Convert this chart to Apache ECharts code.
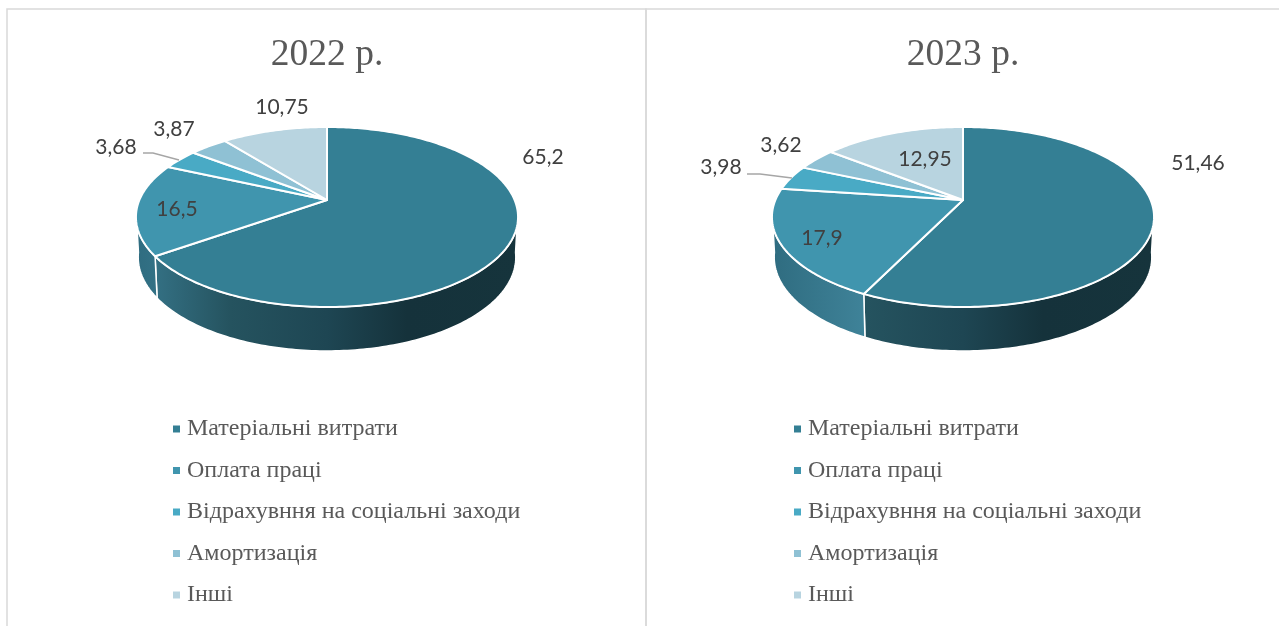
<!DOCTYPE html>
<html>
<head>
<meta charset="utf-8">
<title>Структура витрат</title>
<style>
  html, body { margin: 0; padding: 0; background: #fff; }
  #chart { width: 1279px; height: 626px; }
</style>
</head>
<body>
<div id="chart"></div>
<script src="https://cdn.jsdelivr.net/npm/echarts@6/dist/echarts.min.js"></script>
<script>
// spelling of the third category is as printed in the source chart
const categories = ['Матеріальні витрати', 'Оплата праці', 'Відрахувння на соціальні заходи', 'Амортизація', 'Інші']
const titles = ['2022 р.', '2023 р.']
const values2022 = [65.2, 16.5, 3.68, 3.87, 10.75]
const values2023 = [51.46, 17.9, 3.98, 3.62, 12.95]

const colors = ['#347f94', '#4095ae', '#49aac5', '#8fc1d4', '#b8d4e0']

// wall shading runs along x, relative to the pie centre
const wallStops = [
  [{ at: -190, color: '#2f6d80' }, { at: -170, color: '#336f82' }, { at: -97, color: '#25535f' }, { at: 0, color: '#1e4653' }, { at: 80, color: '#15323b' }, { at: 191, color: '#16343c' }],
  [{ at: -191, color: '#2f6c80' }, { at: -97, color: '#3f8399' }]
]

// layout of each pie: centre (the apex of the slices) and where its labels sit
const pies = [
  {
    values: values2022,
    cx: 327,
    labels: [[543, 157], [177, 209], [116, 147], [174, 129], [282, 107]],
    leader: [[143, 153], [153, 153], [179, 160]]
  },
  {
    values: values2023,
    cx: 963,
    labels: [[1198, 163], [822, 238], [721, 167], [781, 145], [925, 159]],
    leader: [[747, 174], [760, 174], [792, 178]]
  }
]

// perspective of the tilted disc, near side is larger
const apexY = 200
const persp = 0.189
const radiusX = 187.6
const radiusY = 86.8
const floorY = 239.5
const floorRadiusX = 185.4
const floorRadiusY = 90.4
const wallFrom = 98
const wallTo = 262

function project(deg, cx, cy, rx, ry) {
  const a = (deg * Math.PI) / 180
  const x = Math.sin(a)
  const y = -Math.cos(a)
  const w = 1 - persp * y
  return [cx + (rx * x) / w, cy + (ry * y) / w]
}

function arc(from, to, cx, cy, rx, ry) {
  const pts = []
  const steps = Math.max(2, Math.ceil((to - from) / 1))
  for (let i = 0; i <= steps; i++) {
    pts.push(project(from + ((to - from) * i) / steps, cx, cy, rx, ry))
  }
  return pts
}

// slice limits in degrees, clockwise from the top; values are shares of their own sum
function sliceAngles(values) {
  const total = values.reduce((a, b) => a + b, 0)
  let acc = 0
  return values.map((v) => {
    const from = (acc / total) * 360
    acc += v
    return [from, (acc / total) * 360]
  })
}

function wallSeries(pie) {
  const angles = sliceAngles(pie.values)
  return {
    type: 'custom',
    coordinateSystem: 'none',
    silent: true,
    z: 1,
    data: pie.values.slice(0, 2).map((v) => [v]),
    renderItem: (params) => {
      const i = params.dataIndex
      const from = Math.max(angles[i][0], wallFrom)
      const to = Math.min(angles[i][1], wallTo)
      if (to <= from) return { type: 'group', children: [] }
      const top = arc(from, to, pie.cx, apexY, radiusX, radiusY)
      const floor = arc(from, to, pie.cx, floorY, floorRadiusX, floorRadiusY).reverse()
      const stops = wallStops[i]
      const x0 = pie.cx + stops[0].at
      const x1 = pie.cx + stops[stops.length - 1].at
      return {
        type: 'polygon',
        shape: { points: top.concat(floor) },
        style: {
          fill: new echarts.graphic.LinearGradient(x0, 0, x1, 0, stops.map((s) => ({
            offset: (s.at - stops[0].at) / (stops[stops.length - 1].at - stops[0].at),
            color: s.color
          })), true),
          stroke: '#fff',
          lineWidth: 1.5
        }
      }
    }
  }
}

function sliceSeries(pie, j) {
  const angles = sliceAngles(pie.values)
  return {
    type: 'custom',
    name: categories[j],
    coordinateSystem: 'none',
    silent: true,
    z: 2,
    itemStyle: { color: colors[j] },
    data: [[pie.values[j]]],
    renderItem: () => {
      const [from, to] = angles[j]
      const rim = arc(from, to, pie.cx, apexY, radiusX, radiusY)
      const children = [
        {
          type: 'polygon',
          shape: { points: [[pie.cx, apexY]].concat(rim) },
          style: { fill: colors[j], stroke: '#fff', lineWidth: 2, lineJoin: 'round' }
        },
        {
          type: 'text',
          z2: 10,
          style: {
            text: String(pie.values[j]).replace('.', ','),
            x: pie.labels[j][0],
            y: pie.labels[j][1],
            align: 'center',
            verticalAlign: 'middle',
            font: '21px Lato',
            fill: '#404040'
          }
        }
      ]
      if (j === 2) {
        children.push({
          type: 'polyline',
          z2: 10,
          shape: { points: pie.leader },
          style: { stroke: '#a6a6a6', lineWidth: 1.3, fill: 'none' }
        })
      }
      return { type: 'group', children }
    }
  }
}

const series = []
pies.forEach((pie) => {
  series.push(wallSeries(pie))
  categories.forEach((c, j) => series.push(sliceSeries(pie, j)))
})

const chart = echarts.init(document.getElementById('chart'), null, { renderer: 'canvas' })

chart.setOption({
  animation: false,
  backgroundColor: '#fff',
  tooltip: { show: false },
  title: titles.map((t, i) => ({
    text: t,
    left: pies[i].cx - 5,
    top: 31,
    textAlign: 'center',
    textStyle: { fontFamily: 'Liberation Serif', fontSize: 37.5, fontWeight: 'normal', color: '#595959' }
  })),
  legend: [173, 794].map((left) => ({
    left,
    top: 417,
    orient: 'vertical',
    icon: 'rect',
    itemWidth: 7,
    itemHeight: 7,
    itemGap: 17.5,
    selectedMode: false,
    padding: 0,
    data: categories,
    textStyle: { fontFamily: 'Liberation Serif', fontSize: 24, lineHeight: 24, color: '#595959', padding: [0, 0, 0, 2] }
  })),
  graphic: [
    { type: 'rect', silent: true, z: 0, shape: { x: 7, y: 9, width: 639, height: 640 }, style: { fill: 'none', stroke: '#d9d9d9', lineWidth: 1.5 } },
    { type: 'rect', silent: true, z: 0, shape: { x: 646, y: 9, width: 660, height: 640 }, style: { fill: 'none', stroke: '#d9d9d9', lineWidth: 1.5 } }
  ],
  series
})

window.addEventListener('resize', () => chart.resize())
</script>
</body>
</html>
